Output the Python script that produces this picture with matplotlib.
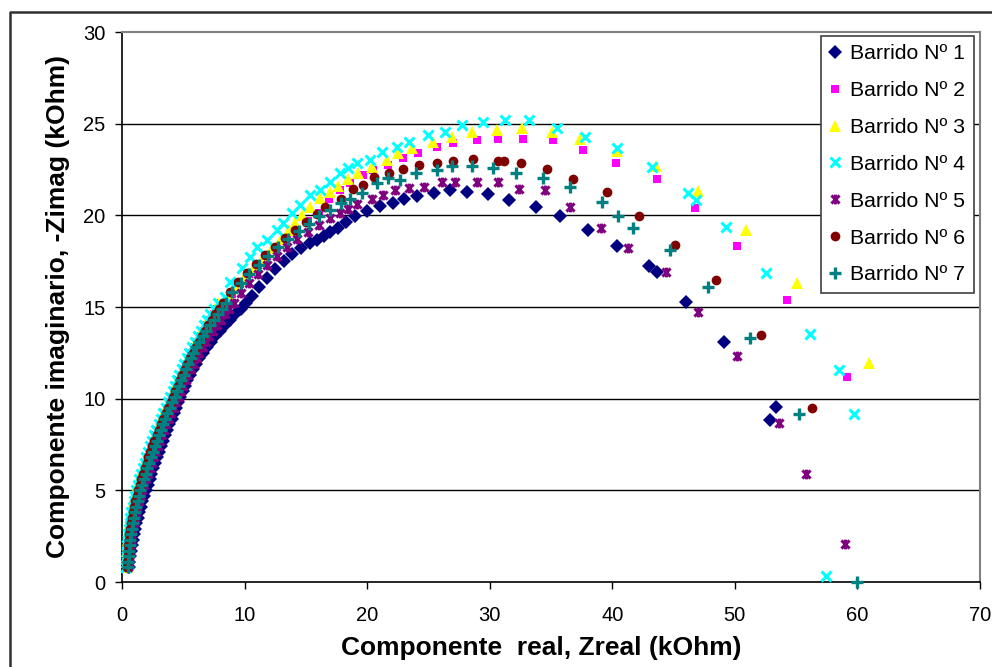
import matplotlib
matplotlib.use("Agg")
import matplotlib.pyplot as plt
from matplotlib.path import Path
from matplotlib.lines import Line2D

plt.rcParams['font.family'] = ['Liberation Sans', 'DejaVu Sans']

# ---------------- data (kOhm) ----------------
# dense high-frequency part: -Zimag levels and Zreal read for each sweep
y_low = [0.8, 1.1, 1.4, 1.7, 2.0, 2.3, 2.6, 2.9, 3.2, 3.5, 3.8, 4.1, 4.4, 4.7, 5.0, 5.3, 5.6,
         5.9, 6.2, 6.5, 6.8, 7.1, 7.4, 7.7, 8.0, 8.3, 8.6, 8.9, 9.2, 9.5, 9.8, 10.1, 10.4,
         10.7, 11.0, 11.3, 11.6, 11.9, 12.2, 12.5, 12.8, 13.1, 13.4, 13.7, 14.0, 14.3, 14.6,
         14.9, 15.2]
x_low_1 = [0.55, 0.6, 0.65, 0.71, 0.78, 0.86, 0.95, 1.05, 1.16, 1.28, 1.41, 1.54, 1.67, 1.81, 1.95,
           2.1, 2.25, 2.4, 2.55, 2.7, 2.86, 3.02, 3.18, 3.35, 3.52, 3.69, 3.86, 4.04, 4.22, 4.4,
           4.58, 4.76, 4.94, 5.12, 5.3, 5.52, 5.76, 6.02, 6.3, 6.6, 6.92, 7.26, 7.62, 8.0, 8.4,
           8.82, 9.25, 9.7, 10.15]
x_low_2 = [0.4, 0.42, 0.44, 0.47, 0.5, 0.54, 0.58, 0.64, 0.7, 0.77, 0.85, 0.94, 1.04, 1.14, 1.25,
           1.38, 1.51, 1.65, 1.8, 1.95, 2.1, 2.26, 2.42, 2.59, 2.76, 2.93, 3.11, 3.3, 3.49, 3.69,
           3.89, 4.09, 4.28, 4.47, 4.66, 4.86, 5.06, 5.27, 5.48, 5.69, 5.92, 6.16, 6.41, 6.67,
           6.93, 7.2, 7.48, 7.77, 8.08]
x_low_3 = [0.37, 0.39, 0.41, 0.44, 0.47, 0.5, 0.54, 0.6, 0.66, 0.73, 0.81, 0.9, 0.99, 1.09, 1.2,
           1.32, 1.45, 1.59, 1.73, 1.88, 2.03, 2.19, 2.35, 2.51, 2.68, 2.85, 3.03, 3.21, 3.4, 3.6,
           3.8, 4.0, 4.19, 4.38, 4.57, 4.76, 4.96, 5.17, 5.38, 5.59, 5.81, 6.05, 6.3, 6.55, 6.81,
           7.07, 7.34, 7.62, 7.93]
x_low_4 = [0.35, 0.37, 0.39, 0.41, 0.44, 0.47, 0.51, 0.56, 0.62, 0.69, 0.77, 0.86, 0.95, 1.05, 1.15,
           1.28, 1.41, 1.55, 1.69, 1.84, 1.99, 2.14, 2.3, 2.46, 2.63, 2.8, 2.98, 3.16, 3.35, 3.55,
           3.75, 3.95, 4.13, 4.31, 4.5, 4.69, 4.89, 5.09, 5.3, 5.5, 5.72, 5.96, 6.2, 6.45, 6.7,
           6.96, 7.22, 7.5, 7.8]
x_low_5 = [0.5, 0.53, 0.56, 0.6, 0.64, 0.7, 0.77, 0.85, 0.94, 1.04, 1.15, 1.26, 1.38, 1.51, 1.65,
           1.8, 1.95, 2.1, 2.25, 2.41, 2.57, 2.74, 2.91, 3.08, 3.26, 3.44, 3.63, 3.82, 4.01, 4.21,
           4.41, 4.61, 4.81, 5.01, 5.21, 5.42, 5.63, 5.85, 6.08, 6.32, 6.58, 6.85, 7.13, 7.43,
           7.74, 8.06, 8.4, 8.75, 9.12]
x_low_6 = [0.42, 0.44, 0.46, 0.49, 0.52, 0.56, 0.61, 0.67, 0.74, 0.82, 0.9, 0.99, 1.09, 1.2, 1.31,
           1.44, 1.57, 1.71, 1.86, 2.01, 2.16, 2.32, 2.48, 2.65, 2.82, 3.0, 3.18, 3.37, 3.56, 3.76,
           3.96, 4.16, 4.35, 4.54, 4.73, 4.93, 5.13, 5.34, 5.55, 5.76, 6.0, 6.25, 6.5, 6.76, 7.03,
           7.31, 7.6, 7.9, 8.2]
x_low_7 = [0.5, 0.52, 0.55, 0.58, 0.62, 0.67, 0.73, 0.8, 0.88, 0.97, 1.07, 1.17, 1.27, 1.38, 1.5,
           1.64, 1.78, 1.92, 2.06, 2.2, 2.35, 2.5, 2.66, 2.82, 2.99, 3.16, 3.34, 3.52, 3.7, 3.9,
           4.1, 4.3, 4.48, 4.66, 4.84, 5.02, 5.2, 5.4, 5.6, 5.8, 6.05, 6.3, 6.58, 6.87, 7.17, 7.48,
           7.8, 8.13, 8.47]

# low-frequency part (Zreal, -Zimag) for each sweep
s1_hi = [(10.6,15.6),(11.2,16.1),(11.8,16.6),(12.5,17.1),(13.2,17.5),(13.9,17.9),(14.6,18.2),(15.3,18.5),(15.9,18.65),(16.5,18.9),(17.0,19.1),(17.6,19.3),(18.3,19.65),
         (19.0,19.96),(20.0,20.24),(21.05,20.51),(22.1,20.67),(23.0,20.89),(24.07,21.05),(25.45,21.22),(26.76,21.38),(28.15,21.27),(29.86,21.16),(31.57,20.84),(33.78,20.45),(35.73,19.96),(38.02,19.2),(40.38,18.33),(43.0,17.24),(43.65,16.91),(46.02,15.27),(49.12,13.09),(53.36,9.55),(52.87,8.84)]
s2_hi = [(8.95,15.7),(9.65,16.25),(10.35,16.8),(11.1,17.3),(11.85,17.8),(12.65,18.3),(13.45,18.75),(14.3,19.2),(15.2,19.7),(16.1,20.15),(16.9,20.9),
         (17.8,21.38),(18.6,21.76),(19.7,22.2),(20.5,22.47),(21.7,22.75),(22.9,23.13),(24.15,23.4),(25.7,23.73),(27.0,23.95),(28.96,24.1),(30.7,24.16),(32.7,24.16),(35.2,24.1),(37.6,23.56),(40.3,22.85),(43.65,21.98),(46.75,20.4),(50.2,18.33),(54.25,15.38),(59.15,11.18)]
s3_hi = [(8.7,15.6),(9.35,16.15),(10.05,16.7),(10.75,17.2),(11.5,17.7),(12.25,18.2),(13.0,18.7),(13.6,19.2),(14.1,19.6),(14.7,20.0),(15.3,20.45),(16.15,20.95),(17.0,21.27),(17.6,21.6),(18.4,21.98),(19.25,22.31),(20.4,22.64),
         (21.6,23.02),(22.5,23.4),(23.7,23.67),(25.4,24.0),(26.9,24.27),(28.55,24.55),(30.6,24.65),(32.6,24.76),(35.1,24.55),(37.4,24.16),(40.4,23.5),(43.6,22.7),(47.0,21.33),(50.9,19.2),(55.1,16.3),(60.95,11.95)]
s4_hi = [(8.4,15.55),(8.81,16.36),(9.79,17.13),(10.44,17.73),(11.01,18.27),(11.83,18.65),(12.64,19.2),(13.14,19.58),(13.87,20.13),(14.52,20.56),(15.34,21.11),(16.15,21.38),(16.97,21.82),(17.79,22.31),(18.44,22.58),(19.17,22.85),(20.23,23.02),(21.21,23.45),(22.44,23.73),(23.42,24.0),(24.97,24.38),(26.35,24.55),(27.74,24.93),(29.45,25.09),(31.25,25.2),(33.2,25.2),(35.49,24.76),(37.77,24.27),(40.39,23.67),(43.24,22.64),(46.18,21.22),(46.83,20.84),(49.28,19.36),(52.54,16.85),(56.13,13.53),(58.5,11.56),(59.72,9.16),(57.44,0.33)]
s5_hi = [(9.7,15.75),(10.4,16.3),(11.1,16.8),(11.85,17.3),(12.65,17.8),(13.45,18.25),(14.3,18.7),(15.2,19.1),(16.1,19.5),(17.0,19.85),
         (17.8,20.13),(18.44,20.35),(19.2,20.62),(20.4,20.89),(21.3,21.11),(22.27,21.38),(23.4,21.49),(24.6,21.55),(26.1,21.82),(27.2,21.82),(29.0,21.82),(30.7,21.82),(32.4,21.44),(34.5,21.38),(36.55,20.45),(39.08,19.31),(41.28,18.22),(44.4,16.9),(47.0,14.73),(50.2,12.33),(53.6,8.67),(55.8,5.89),(59.0,2.07)]
s6_hi = [(8.8,15.8),(9.5,16.35),(10.2,16.85),(10.95,17.35),(11.7,17.85),(12.5,18.3),(13.3,18.75),(14.1,19.2),(15.0,19.65),(15.9,20.07),(16.6,20.45),
         (17.87,20.89),(18.85,21.44),(19.66,21.65),(20.6,22.09),(21.8,22.31),(22.9,22.53),(24.2,22.75),(25.7,22.85),(27.0,22.96),(28.6,23.07),(30.7,22.96),(31.2,22.96),(32.55,22.85),(34.7,22.53),(36.8,21.98),(39.57,21.27),(42.2,19.96),(45.1,18.38),(48.5,16.47),(52.1,13.47),(56.3,9.49)]
s7_hi = [(9.0,15.8),(9.7,16.3),(10.4,16.8),(11.15,17.3),(11.95,17.8),(12.75,18.25),(13.55,18.7),(14.4,19.15),(15.25,19.55),(16.1,19.95),
         (16.97,20.29),(17.87,20.67),(18.6,20.89),(19.6,21.22),(20.8,21.76),(21.7,22.04),(22.7,21.93),(24.0,22.31),(25.7,22.47),(26.92,22.69),(28.55,22.69),(30.27,22.58),(32.15,22.31),(34.35,22.04),(36.55,21.55),(39.16,20.73),(40.47,19.96),(41.7,19.31),(44.7,18.1),(47.8,16.09),(51.24,13.31),(55.23,9.16),(59.97,0.0)]

x_lows = [x_low_1, x_low_2, x_low_3, x_low_4, x_low_5, x_low_6, x_low_7]
his = [s1_hi, s2_hi, s3_hi, s4_hi, s5_hi, s6_hi, s7_hi]
labels = ["Barrido Nº 1", "Barrido Nº 2", "Barrido Nº 3", "Barrido Nº 4",
          "Barrido Nº 5", "Barrido Nº 6", "Barrido Nº 7"]
x_ticks = [0, 10, 20, 30, 40, 50, 60, 70]
y_ticks = [0, 5, 10, 15, 20, 25, 30]

# ---------------- styles ----------------
star = Path([(-1, -1), (1, 1), (-1, 1), (1, -1), (0, -1.2), (0, 1.2)],
            [Path.MOVETO, Path.LINETO, Path.MOVETO, Path.LINETO, Path.MOVETO, Path.LINETO])
styles = [
    dict(marker='D', color='#000080', ms=7, mew=0),
    dict(marker='s', color='#FF00FF', ms=6, mew=0),
    dict(marker='^', color='#FFFF00', ms=8, mew=0),
    dict(marker='x', color='#00FFFF', ms=7, mew=2.2),
    dict(marker=star, color='#800080', ms=7, mew=2.2),
    dict(marker='o', color='#800000', ms=7, mew=0),
    dict(marker='+', color='#008080', ms=8.5, mew=2.4),
]

fig = plt.figure(figsize=(9.92, 6.67), dpi=100)
ax = fig.add_axes([122/992, 1-582/667, (980-122)/992, (582-32)/667])

for xl, hi, lab, st in zip(x_lows, his, labels, styles):
    xs = list(xl) + [p[0] for p in hi]
    ys = list(y_low) + [p[1] for p in hi]
    ax.plot(xs, ys, linestyle='none', marker=st['marker'], markersize=st['ms'],
            markerfacecolor=st['color'], markeredgecolor=st['color'],
            markeredgewidth=st['mew'], label=lab, clip_on=False, zorder=3)

ax.set_xlim(0, 70)
ax.set_ylim(0, 30)
ax.set_xticks(x_ticks)
ax.set_yticks(y_ticks)
ax.tick_params(axis='both', direction='out', length=5, width=1, labelsize=14.5, color='black')
ax.tick_params(axis='x', pad=12)
ax.tick_params(axis='y', pad=7)
for yv in y_ticks[1:-1]:
    ax.axhline(yv, color='black', lw=1, zorder=1)
for side in ['top', 'right']:
    ax.spines[side].set_color('#808080')
    ax.spines[side].set_linewidth(1.5)
for side in ['left', 'bottom']:
    ax.spines[side].set_color('black')
    ax.spines[side].set_linewidth(1.2)

ax.set_xlabel("Componente  real, Zreal (kOhm)", fontsize=19, fontweight='bold')
ax.xaxis.set_label_coords((541 - 122) / 858, -(660 - 582) / 550, transform=ax.transAxes)
ax.xaxis.label.set_va('bottom')
ax.set_ylabel("Componente imaginario, -Zimag (kOhm)", fontsize=19, fontweight='bold', labelpad=9)

leg = ax.legend(loc='upper right', bbox_to_anchor=(0.993, 0.993), fontsize=15.3,
                frameon=True, fancybox=False, borderaxespad=0, labelspacing=0.84,
                handlelength=0.5, handletextpad=0.5, borderpad=0.4, framealpha=1)
leg.get_frame().set_edgecolor('#404040')
leg.get_frame().set_linewidth(1.2)

# outer chart border (cropped at right and bottom)
fig.add_artist(Line2D([10/992, 10/992, 1.0], [0.0, 1-12/667, 1-12/667],
                      transform=fig.transFigure, color='#303030', lw=1.8))

fig.savefig("out.png", dpi=100)
